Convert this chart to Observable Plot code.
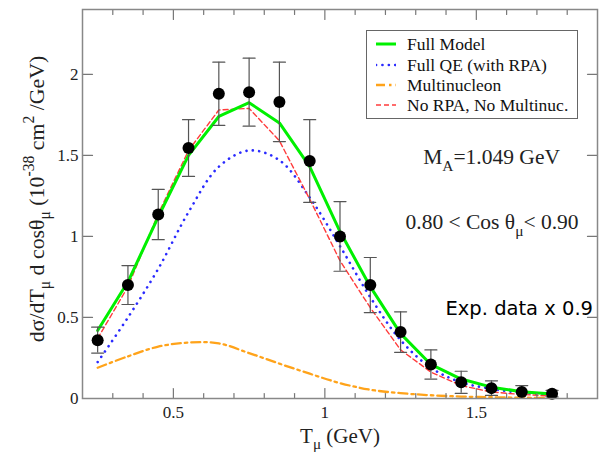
<!DOCTYPE html>
<html><head><meta charset="utf-8">
<script src="https://cdn.jsdelivr.net/npm/d3@7"></script>
<script src="https://cdn.jsdelivr.net/npm/@observablehq/plot@0.6"></script>
<style>
body{margin:0;background:#fff;}
#wrap{position:relative;width:606px;height:461px;overflow:hidden;background:#fff;}
#legend{position:absolute;left:366px;top:30px;width:210px;height:87px;border:1.5px solid #666;background:#fff;font-family:"Liberation Serif",serif;font-size:17.5px;color:#111;}
#legend .row{position:absolute;left:0;width:100%;height:20px;}
#legend svg{position:absolute;left:8.5px;top:0;}
#legend span{position:absolute;left:40px;top:0;line-height:20px;white-space:nowrap;}
</style></head>
<body><div id="wrap"><div id="legend"></div></div>
<script>
// ---- data ----
const T = [0.25,0.35,0.45,0.55,0.65,0.75,0.85,0.95,1.05,1.15,1.25,1.35,1.45,1.55,1.65,1.75];
const expData = [0.36,0.70,1.135,1.545,1.88,1.89,1.83,1.465,1.00,0.70,0.41,0.21,0.10,0.064,0.04,0.03];
const expErr  = [0.08,0.12,0.155,0.175,0.195,0.21,0.245,0.255,0.215,0.17,0.125,0.09,0.068,0.045,0.04,0.02];
const fullModel = [0.42,0.72,1.12,1.50,1.74,1.825,1.70,1.43,1.03,0.69,0.40,0.21,0.12,0.07,0.042,0.028];
const fullQE    = [0.225,0.50,0.80,1.15,1.43,1.53,1.47,1.24,0.94,0.625,0.36,0.19,0.10,0.06,0.035,0.025];
const multiNuc  = [0.19,0.26,0.32,0.345,0.34,0.28,0.215,0.153,0.095,0.054,0.033,0.02,0.012,0.008,0.005,0.003];
const noRPA     = [0.37,0.69,1.14,1.53,1.78,1.79,1.59,1.23,0.85,0.56,0.30,0.163,0.08,0.04,0.025,0.015];
const xTicksMajor = [0.5,1,1.5];
const xTicksMinor = [0.3,0.4,0.6,0.7,0.8,0.9,1.1,1.2,1.3,1.4,1.6,1.7,1.8];
const yTicks = [0,0.5,1,1.5,2];
const seriesNames = ["Full Model","Full QE (with RPA)","Multinucleon","No RPA, No Multinuc."];
const xLabel = "T_{μ} (GeV)";
const yLabel = "dσ/dT_{μ} d cosθ_{μ} (10^{-38} cm^{2} /GeV)";
const annotMA = "M_{A}=1.049 GeV";
const annotCos = "0.80 < Cos θ_{μ}< 0.90";
const annotExp = "Exp. data x 0.9";

// ---- styles ----
const C = {green:"#00f000", blue:"#2a2aff", orange:"#ffa31a", red:"#ff3b3b"};
const S = [
  {stroke:C.green, strokeWidth:3},
  {stroke:C.blue, strokeWidth:2.6, strokeDasharray:"0.1 6.3", strokeLinecap:"round"},
  {stroke:C.orange, strokeWidth:2.3, strokeDasharray:"9 4 2.5 4"},
  {stroke:C.red, strokeWidth:1.4, strokeDasharray:"5 3"}
];
const rows = T.map((t,i)=>({t, v:expData[i], e:expErr[i], fm:fullModel[i], qe:fullQE[i], mn:multiNuc[i], nr:noRPA[i]}));
const seg = {draw(ctx,l){ctx.moveTo(0,0);ctx.lineTo(0,-l);}};
const serif = "Liberation Serif";
const tickC = "#777";

const plot = Plot.plot({
  width:606, height:461,
  marginLeft:82, marginRight:9, marginTop:9, marginBottom:63,
  style:{fontFamily:serif, background:"#fff", color:"#222"},
  x:{domain:[0.2,1.9], label:null},
  y:{domain:[0,2.4], label:null},
  marks:[
    Plot.line(rows,{x:"t",y:"mn",curve:"catmull-rom",...S[2]}),
    Plot.line(rows,{x:"t",y:"qe",curve:"catmull-rom",...S[1]}),
    Plot.line(rows,{x:"t",y:"nr",...S[3]}),
    Plot.line(rows,{x:"t",y:"fm",...S[0]}),
    Plot.ruleX(rows,{x:"t",y1:d=>d.v-d.e,y2:d=>d.v+d.e,stroke:"#555",strokeWidth:1.2}),
    Plot.vector(rows,{x:"t",y:d=>d.v+d.e,length:12,rotate:90,anchor:"middle",shape:seg,stroke:"#555",strokeWidth:1.2}),
    Plot.vector(rows,{x:"t",y:d=>d.v-d.e,length:12,rotate:90,anchor:"middle",shape:seg,stroke:"#555",strokeWidth:1.2}),
    Plot.dot(rows,{x:"t",y:"v",r:6,fill:"#000"}),
    // inward ticks
    Plot.vector(xTicksMajor,{x:d=>d,y:0,length:10,rotate:0,anchor:"start",shape:seg,stroke:tickC,strokeWidth:1.2}),
    Plot.vector(xTicksMinor,{x:d=>d,y:0,length:5,rotate:0,anchor:"start",shape:seg,stroke:tickC,strokeWidth:1.2}),
    Plot.vector(xTicksMajor,{x:d=>d,y:2.4,length:10,rotate:180,anchor:"start",shape:seg,stroke:tickC,strokeWidth:1.2}),
    Plot.vector(xTicksMinor,{x:d=>d,y:2.4,length:5,rotate:180,anchor:"start",shape:seg,stroke:tickC,strokeWidth:1.2}),
    Plot.vector(yTicks,{x:0.2,y:d=>d,length:10,rotate:90,anchor:"start",shape:seg,stroke:tickC,strokeWidth:1.2}),
    Plot.vector(yTicks,{x:1.9,y:d=>d,length:10,rotate:-90,anchor:"start",shape:seg,stroke:tickC,strokeWidth:1.2}),
    Plot.frame({stroke:"#888",strokeWidth:1.5}),
    Plot.axisX({ticks:xTicksMajor,tickSize:0,tickPadding:7,fontSize:17,tickFormat:d=>String(d),label:null,color:"#222"}),
    Plot.axisY({ticks:yTicks,tickSize:0,tickPadding:4,fontSize:17,tickFormat:d=>String(d),label:null,color:"#222"}),
    Plot.text([xLabel],{text:d=>d,frameAnchor:"bottom",dy:44,textAnchor:"middle",lineAnchor:"bottom",fontSize:21,fill:"#222"}),
    Plot.text([yLabel],{text:d=>d,frameAnchor:"left",dx:-39,dy:-5,rotate:-90,textAnchor:"middle",lineAnchor:"bottom",fontSize:21.8,fill:"#222"}),
    Plot.text([annotMA],{text:d=>d,frameAnchor:"top-left",dx:340.7,dy:154.3,textAnchor:"start",lineAnchor:"bottom",fontSize:21.5,fill:"#222"}),
    Plot.text([annotCos],{text:d=>d,frameAnchor:"top-left",dx:323,dy:219.3,textAnchor:"start",lineAnchor:"bottom",fontSize:21.5,fill:"#222"}),
    Plot.text([annotExp],{text:d=>d,frameAnchor:"top-left",dx:363,dy:305.3,textAnchor:"start",lineAnchor:"bottom",fontSize:19.5,fontFamily:"DejaVu Sans",fill:"#000"})
  ]
});
const wrap = document.getElementById("wrap");
wrap.insertBefore(plot, wrap.firstChild);

// rich text: _{sub} and ^{sup}
function rich(el){
  const s = el.textContent;
  if(!/[_^]\{/.test(s)) return;
  const fs = parseFloat(getComputedStyle(el).fontSize);
  const parts = []; const re = /([_^])\{([^}]*)\}/g; let last=0, m;
  while((m=re.exec(s))){ if(m.index>last) parts.push({t:s.slice(last,m.index),k:""}); parts.push({t:m[2],k:m[1]}); last=re.lastIndex; }
  if(last<s.length) parts.push({t:s.slice(last),k:""});
  el.textContent = "";
  let shift = 0;
  for(const p of parts){
    const ts = document.createElementNS("http://www.w3.org/2000/svg","tspan");
    const target = p.k==="_" ? 0.32*fs : p.k==="^" ? -0.42*fs : 0;
    const d = target - shift; shift = target;
    if(d) ts.setAttribute("dy", d);
    if(p.k) ts.setAttribute("font-size", 0.72*fs);
    ts.textContent = p.t;
    el.appendChild(ts);
  }
}
plot.querySelectorAll("text").forEach(rich);

// legend
const lg = document.getElementById("legend");
const tops = [2.5,23.8,44.1,63.6];
seriesNames.forEach((name,i)=>{
  const r = document.createElement("div"); r.className="row"; r.style.top = tops[i]+"px";
  const st = S[i];
  r.innerHTML = `<svg width="20" height="20"><line x1="0" x2="20" y1="10" y2="10" stroke="${st.stroke}" stroke-width="${st.strokeWidth}" ${st.strokeDasharray?`stroke-dasharray="${st.strokeDasharray}"`:""} ${st.strokeLinecap?`stroke-linecap="${st.strokeLinecap}"`:""}/></svg><span></span>`;
  r.querySelector("span").textContent = name;
  lg.appendChild(r);
});
</script></body></html>
